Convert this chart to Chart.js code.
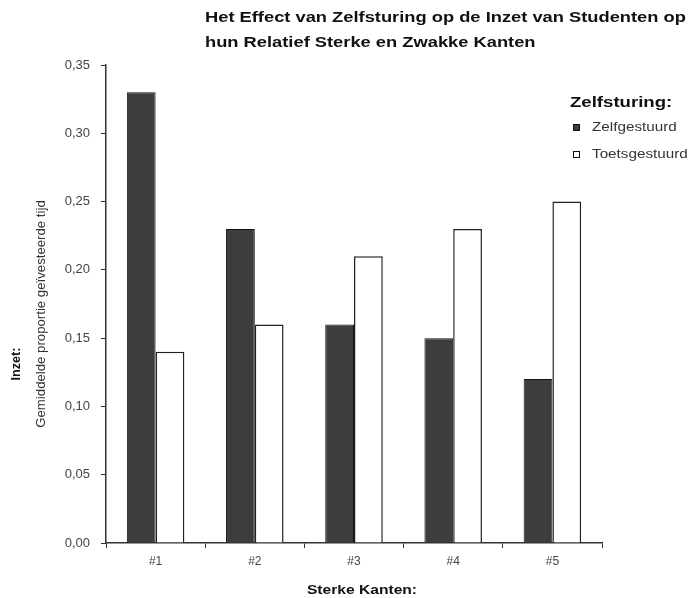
<!DOCTYPE html>
<html>
<head>
<meta charset="utf-8">
<script src="https://cdn.jsdelivr.net/npm/chart.js@4"></script>
<style>
  body { margin: 0; background: #fff; }
  #wrap { width: 693px; height: 598px; }
</style>
</head>
<body>
<div id="wrap"><canvas id="chart" width="693" height="598"></canvas></div>
<script>
const categories = ['#1', '#2', '#3', '#4', '#5'];
const zelfgestuurd = [0.33, 0.23, 0.16, 0.15, 0.12];
const toetsgestuurd = [0.14, 0.16, 0.21, 0.23, 0.25];
const seriesNames = ['Zelfgestuurd', 'Toetsgestuurd'];
const titleLines = ['Het Effect van Zelfsturing op de Inzet van Studenten op', 'hun Relatief Sterke en Zwakke Kanten'];
const legendTitle = 'Zelfsturing:';
const yTitle = 'Inzet:';
const ySubTitle = 'Gemiddelde proportie geïvesteerde tijd';
const xTitle = 'Sterke Kanten:';

const FONT = '"Liberation Sans", Arial, sans-serif';

// text drawn wider than normal, like the stretched original
function wideText(ctx, text, x, y, sx, align) {
    ctx.save();
    ctx.translate(x, y);
    ctx.scale(sx, 1);
    ctx.textAlign = align || 'left';
    ctx.fillText(text, 0, 0);
    ctx.restore();
}

const extras = {
    id: 'extras',
    afterDraw(chart) {
        const ctx = chart.ctx;
        ctx.save();
        ctx.fillStyle = '#111';
        ctx.textBaseline = 'alphabetic';
        ctx.font = 'bold 15px ' + FONT;
        wideText(ctx, titleLines[0], 205, 22, 1.22);
        wideText(ctx, titleLines[1], 205, 47, 1.22);

        // x axis title
        ctx.font = 'bold 13px ' + FONT;
        wideText(ctx, xTitle, 362, 594, 1.2, 'center');

        // y axis titles
        ctx.save();
        ctx.translate(20, 364);
        ctx.rotate(-Math.PI / 2);
        ctx.font = 'bold 12px ' + FONT;
        wideText(ctx, yTitle, 0, 0, 1.05, 'center');
        ctx.restore();
        ctx.save();
        ctx.translate(45, 314);
        ctx.rotate(-Math.PI / 2);
        ctx.fillStyle = '#333';
        ctx.font = '12px ' + FONT;
        wideText(ctx, ySubTitle, 0, 0, 1.1, 'center');
        ctx.restore();

        // legend
        ctx.font = 'bold 15px ' + FONT;
        ctx.fillStyle = '#111';
        wideText(ctx, legendTitle, 570, 107, 1.24);
        ctx.font = '12.5px ' + FONT;
        chart.data.datasets.forEach((ds, i) => {
            const y = 131 + i * 27;
            ctx.fillStyle = ds.backgroundColor;
            ctx.fillRect(573, y - 7, 7, 7);
            ctx.strokeStyle = '#111';
            ctx.lineWidth = 1;
            ctx.strokeRect(573.5, y - 6.5, 6, 6);
            ctx.fillStyle = '#333';
            wideText(ctx, ds.label, 592, y, 1.22);
        });
        ctx.restore();
    }
};

new Chart(document.getElementById('chart'), {
    type: 'bar',
    data: {
        labels: categories,
        datasets: [{
            label: seriesNames[0],
            data: zelfgestuurd,
            backgroundColor: '#3d3d3d',
            borderColor: '#111',
            borderWidth: 1
        }, {
            label: seriesNames[1],
            data: toetsgestuurd,
            backgroundColor: '#ffffff',
            borderColor: '#222',
            borderWidth: 1.5
        }]
    },
    options: {
        responsive: false,
        animation: false,
        layout: { padding: { top: 65, right: 91, left: 0, bottom: 0 } },
        datasets: { bar: { categoryPercentage: 0.58, barPercentage: 1 } },
        plugins: {
            legend: { display: false },
            title: { display: false },
            tooltip: { enabled: false }
        },
        scales: {
            x: {
                afterFit: s => { s.height = 55; },
                grid: { display: true, drawOnChartArea: false, offset: true, tickLength: 5, color: '#333', lineWidth: 1 },
                border: { color: '#333', width: 1.5 },
                ticks: { color: '#444', font: { family: FONT, size: 12 }, padding: 6 }
            },
            y: {
                min: 0,
                max: 0.35,
                afterFit: s => { s.width = 106; },
                grid: { display: true, drawOnChartArea: false, tickLength: 5, color: '#333', lineWidth: 1 },
                border: { color: '#333', width: 1.5 },
                ticks: {
                    stepSize: 0.05,
                    color: '#444',
                    font: { family: FONT, size: 13 },
                    padding: 11,
                    callback: v => v.toFixed(2).replace('.', ',')
                }
            }
        }
    },
    plugins: [extras]
});
</script>
</body>
</html>
